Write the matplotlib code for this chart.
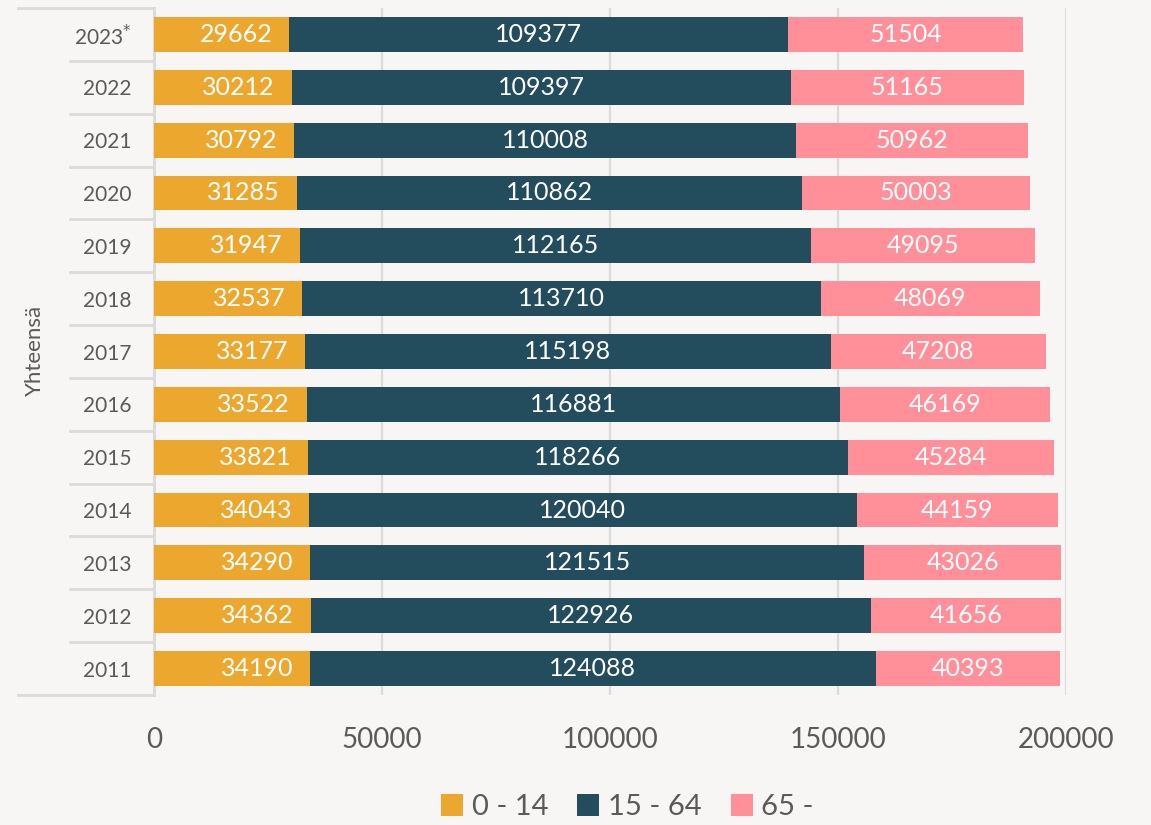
import matplotlib
matplotlib.use("Agg")
from matplotlib import pyplot as plt
import matplotlib.transforms as mtransforms

years = ["2023", "2022", "2021", "2020", "2019", "2018", "2017",
         "2016", "2015", "2014", "2013", "2012", "2011"]
age_0_14 = [29662, 30212, 30792, 31285, 31947, 32537, 33177,
            33522, 33821, 34043, 34290, 34362, 34190]
age_15_64 = [109377, 109397, 110008, 110862, 112165, 113710, 115198,
             116881, 118266, 120040, 121515, 122926, 124088]
age_65 = [51504, 51165, 50962, 50003, 49095, 48069, 47208,
          46169, 45284, 44159, 43026, 41656, 40393]
series_names = ["0 - 14", "15 - 64", "65 -"]
colors = ["#eca72f", "#234d5c", "#ff9099"]
xticks = [0, 50000, 100000, 150000, 200000]

plt.rcParams["font.family"] = ["Lato", "DejaVu Sans"]
bg = "#f7f6f4"
grey = "#5a5a5a"

fig = plt.figure(figsize=(11.51, 8.25), dpi=100, facecolor=bg)
ax = fig.add_axes([154 / 1151, 1 - 695 / 825, 912 / 1151, 687 / 825])
ax.set_facecolor(bg)

n = len(years)
ypos = list(range(n - 1, -1, -1))  # 2023 at top
h = 0.66

left = [0] * n
for vals, name, col in zip([age_0_14, age_15_64, age_65], series_names, colors):
    bars = ax.barh(ypos, vals, left=left, height=h, color=col, label=name,
                   zorder=3)
    for i, (b, v) in enumerate(zip(bars, vals)):
        if name == "0 - 14":
            ax.text(left[i] + v - 3700, ypos[i], str(v), ha="right",
                    va="center", color="white", fontsize=18, zorder=4)
        else:
            ax.text(left[i] + v / 2, ypos[i], str(v), ha="center",
                    va="center", color="white", fontsize=18, zorder=4)
    left = [l + v for l, v in zip(left, vals)]

ax.set_xlim(0, 200000)
ax.set_ylim(-0.5, n - 0.5)
ax.set_xticks(xticks)
ax.set_xticklabels([str(t) for t in xticks], fontsize=20, color=grey)
ax.tick_params(axis="x", length=0, pad=23)
ax.set_yticks(ypos)
labels = [y + "$^{*}$" if y == "2023" else y for y in years]
ax.set_yticklabels(labels, fontsize=15, color=grey)
ax.tick_params(axis="y", length=0, pad=16)

for t in xticks[1:]:
    ax.axvline(t, color="#dcdbd9", linewidth=1.6, zorder=1)
for s in ["top", "right", "bottom"]:
    ax.spines[s].set_visible(False)
ax.spines["left"].set_color("#dcdbd9")
ax.spines["left"].set_linewidth(2.2)

# table-style row separators on the left
trans = mtransforms.blended_transform_factory(ax.transAxes, ax.transData)
for k in range(n + 1):
    yb = k - 0.5
    x0 = -0.149 if k in (0, n) else -0.092
    ax.plot([x0, 0], [yb, yb], transform=trans, color="#dcdbd9",
            linewidth=2, clip_on=False, zorder=1)

fig.text(35 / 1151, 1 - 350 / 825, "Yhteensä", rotation=90, ha="center",
         va="center", fontsize=16, color=grey)

leg = fig.legend(loc="lower center", ncol=3, frameon=False, fontsize=21,
                 handlelength=0.75, handleheight=0.75, handletextpad=0.3,
                 columnspacing=1.0, bbox_to_anchor=(0.545, -0.026))
for t in leg.get_texts():
    t.set_color(grey)

fig.savefig("out.png", dpi=100, facecolor=bg)
